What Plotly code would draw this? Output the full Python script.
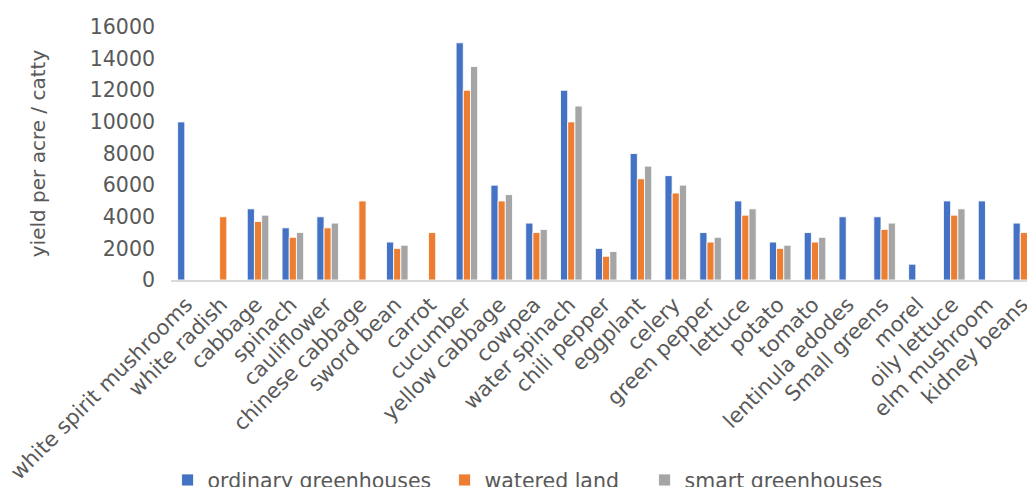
import plotly.graph_objects as go

# Yield per acre (catty) by crop and cultivation method
crops = ["white spirit mushrooms", "white radish", "cabbage", "spinach", "cauliflower",
         "chinese cabbage", "sword bean", "carrot", "cucumber", "yellow cabbage",
         "cowpea", "water spinach", "chili pepper", "eggplant", "celery",
         "green pepper", "lettuce", "potato", "tomato", "lentinula edodes",
         "Small greens", "morel", "oily lettuce", "elm mushroom", "kidney beans"]

ordinary_greenhouses = [10000, None, 4500, 3300, 4000, None, 2400, None, 15000, 6000,
                        3600, 12000, 2000, 8000, 6600, 3000, 5000, 2400, 3000, 4000,
                        4000, 1000, 5000, 5000, 3600]
watered_land = [None, 4000, 3700, 2700, 3300, 5000, 2000, 3000, 12000, 5000,
                3000, 10000, 1500, 6400, 5500, 2400, 4100, 2000, 2400, None,
                3200, None, 4100, None, 3000]
smart_greenhouses = [None, None, 4100, 3000, 3600, None, 2200, None, 13500, 5400,
                     3200, 11000, 1800, 7200, 6000, 2700, 4500, 2200, 2700, None,
                     3600, None, 4500, None, None]

series = [
    ("ordinary greenhouses", ordinary_greenhouses, "#4472C4", 232),
    ("watered land", watered_land, "#ED7D31", 155),
    ("smart greenhouses", smart_greenhouses, "#A5A5A5", None),
]

FONT = "DejaVu Sans"
TXT = "#595959"

fig = go.Figure()
for name, vals, color, lw in series:
    kw = {}
    if lw is not None:
        kw["legendwidth"] = lw
    fig.add_trace(go.Bar(
        x=list(range(len(crops))), y=vals, name=name,
        marker=dict(color=color, line=dict(color="rgba(255,255,255,0.85)", width=1)),
        **kw,
    ))

fig.update_layout(
    width=1027, height=487,
    margin=dict(l=171, r=0, t=27, b=207, autoexpand=False),
    paper_bgcolor="white", plot_bgcolor="white",
    barmode="group", bargap=0.38, bargroupgap=0,
    font=dict(family=FONT, size=20, color=TXT),
    showlegend=True,
    legend=dict(orientation="h", x=-0.004, xanchor="left", y=-0.712, yanchor="top",
                font=dict(family=FONT, size=20.5, color=TXT),
                bgcolor="rgba(0,0,0,0)", traceorder="normal"),
    xaxis=dict(
        tickmode="array", tickvals=list(range(len(crops))), ticktext=crops,
        range=[-0.5, 24.09], tickangle=-45, ticks="",
        ticklabeloverflow="allow", ticklabelshift=-2, ticklabelstandoff=2,
        tickfont=dict(family=FONT, size=21, color=TXT),
        showline=True, linecolor="#D9D9D9", linewidth=2,
        showgrid=False, zeroline=False,
    ),
    yaxis=dict(
        range=[0, 16000], tickmode="linear", tick0=0, dtick=2000,
        tickformat="d", ticks="", ticklabelstandoff=15,
        tickfont=dict(family=FONT, size=20.5, color=TXT),
        showgrid=False, zeroline=False, showline=False,
        title=dict(text="yield per acre / catty", standoff=38,
                   font=dict(family=FONT, size=20, color=TXT)),
    ),
)

fig.write_html("out.html")
